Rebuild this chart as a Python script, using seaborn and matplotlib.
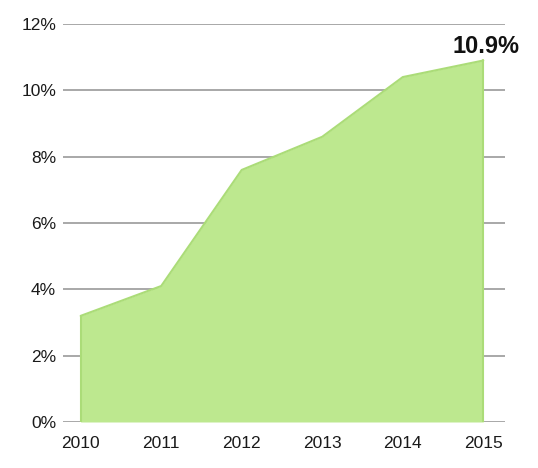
import numpy as np
import pandas as pd
import seaborn as sns
import matplotlib.pyplot as plt

years = [2010, 2011, 2012, 2013, 2014, 2015]
values = [3.2, 4.1, 7.6, 8.6, 10.4, 10.9]
yticks = [0, 2, 4, 6, 8, 10, 12]

df = pd.DataFrame({"year": years, "value": values})

sns.set_theme(style="white")
plt.rcParams['font.family'] = ['Liberation Sans', 'DejaVu Sans']

fig = plt.figure(figsize=(5.38, 4.68), dpi=100)
ax = fig.add_axes([0.117, 0.0983, 0.8217, 0.8504])

for t in yticks:
    ax.axhline(t, color="#9a9a9a", lw=1.2, zorder=1)

ax.fill_between(df["year"], df["value"], color="#bde88f", lw=0, zorder=2)
sns.lineplot(data=df, x="year", y="value", color="#abdc78", lw=1.5, ax=ax, zorder=3)
ax.plot([years[0], years[0]], [0, values[0]], color="#abdc78", lw=1.5, zorder=3)
ax.plot([years[-1], years[-1]], [0, values[-1]], color="#abdc78", lw=1.5, zorder=3)

ax.annotate(f"{values[-1]}%", (years[-1], values[-1]), xytext=(2, 2),
            textcoords="offset points", ha="center", va="bottom",
            fontsize=17, fontweight="bold", color="#111111",
            family=['Liberation Sans Narrow', 'Liberation Sans', 'DejaVu Sans'])

ax.set_xlim(2009.78, 2015.27)
ax.set_ylim(0, 12)
ax.set_xticks(years)
ax.set_xticklabels([str(y) for y in years])
ax.set_yticks(yticks)
ax.set_yticklabels([f"{t}%" for t in yticks])
ax.tick_params(axis="both", length=0, labelsize=12.5, colors="#1a1a1a")
ax.tick_params(axis="x", pad=10)
ax.tick_params(axis="y", pad=5)
ax.set_xlabel("")
ax.set_ylabel("")
sns.despine(left=True, bottom=True, top=True, right=True)

plt.savefig("out.png", dpi=100)
